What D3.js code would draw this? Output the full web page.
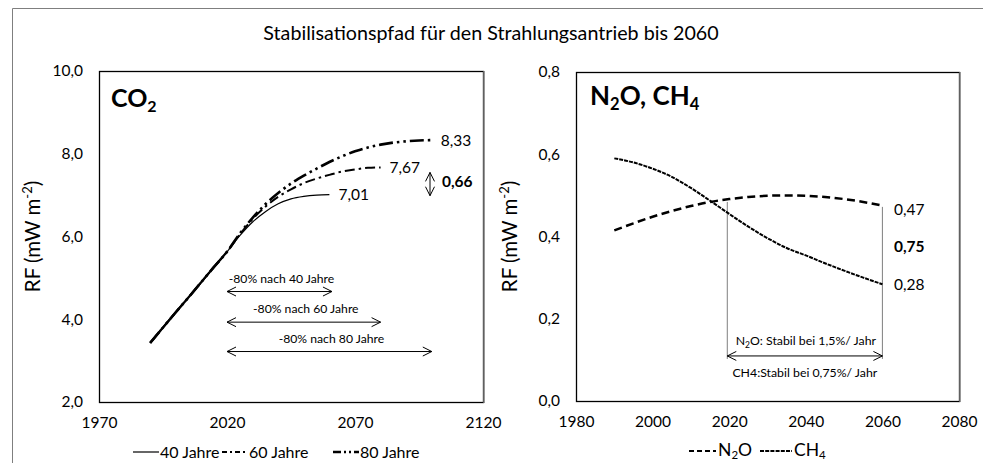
<!DOCTYPE html>
<html>
<head>
<meta charset="utf-8">
<script src="https://cdn.jsdelivr.net/npm/d3@7"></script>
<style>
  body { margin: 0; background: #fff; }
  svg { display: block; font-family: Lato, "Open Sans", sans-serif; }
</style>
</head>
<body>
<svg id="chart" width="983" height="463"></svg>
<script>
'use strict';

// --- data ---
const co2Common = [[1990, 3.43], [1995, 3.80], [2000, 4.17], [2005, 4.53], [2010, 4.90], [2015, 5.27], [2020, 5.63]];
const co2Jahre40 = [[2025, 6.02], [2030, 6.35], [2035, 6.60], [2040, 6.79], [2045, 6.91], [2050, 6.97], [2055, 7.00], [2060, 7.01]];
const co2Jahre60 = [[2025, 6.05], [2030, 6.42], [2035, 6.72], [2040, 6.96], [2045, 7.14], [2050, 7.29], [2055, 7.40], [2060, 7.49],
  [2065, 7.57], [2070, 7.62], [2075, 7.66], [2080, 7.67]];
const co2Jahre80 = [[2025, 6.07], [2030, 6.45], [2035, 6.78], [2040, 7.05], [2045, 7.28], [2050, 7.47], [2055, 7.64], [2060, 7.80],
  [2065, 7.94], [2070, 8.06], [2075, 8.15], [2080, 8.22], [2085, 8.27], [2090, 8.30], [2095, 8.32], [2100, 8.33]];

const years2 = [1990, 1995, 2000, 2005, 2010, 2015, 2020, 2025, 2030, 2035, 2040, 2045, 2050, 2055, 2060];
const n2oValues = [0.415, 0.432, 0.448, 0.462, 0.474, 0.484, 0.491, 0.496, 0.499, 0.500, 0.499, 0.496, 0.491, 0.484, 0.475];
const ch4Values = [0.590, 0.580, 0.565, 0.545, 0.518, 0.487, 0.455, 0.424, 0.396, 0.372, 0.354, 0.335, 0.317, 0.300, 0.284];

const co2XTicks = [1970, 2020, 2070, 2120];
const co2YTicks = [2, 4, 6, 8, 10];
const ghgXTicks = [1980, 2000, 2020, 2040, 2060, 2080];
const ghgYTicks = [0, 0.2, 0.4, 0.6, 0.8];

const co2EndLabels = ['7,01', '7,67', '8,33'];
const co2Spans = [
  { label: '-80% nach 40 Jahre', from: 2020, to: 2061, y: 4.67 },
  { label: '-80% nach 60 Jahre', from: 2020, to: 2080, y: 3.93 },
  { label: '-80% nach 80 Jahre', from: 2020, to: 2100, y: 3.22 }
];

const svg = d3.select('#chart');
const fmt = d => d3.format('.1f')(d).replace('.', ',');

// outer frame (left + top edge only visible)
svg.append('path')
  .attr('d', 'M12.5,463 V8.5 H983')
  .attr('fill', 'none').attr('stroke', '#7f7f7f').attr('stroke-width', 1);

svg.append('text')
  .attr('x', 491).attr('y', 40)
  .attr('text-anchor', 'middle')
  .attr('font-size', 19.7)
  .text('Stabilisationspfad für den Strahlungsantrieb bis 2060');

function arrowHead(g, x, y, dir, horiz) {
  // open chevron head
  const L = 9, H = 4.5;
  let d;
  if (horiz) d = `M${x + dir * L},${y - H} L${x},${y} L${x + dir * L},${y + H}`;
  else d = `M${x - H},${y + dir * L} L${x},${y} L${x + H},${y + dir * L}`;
  g.append('path').attr('d', d).attr('fill', 'none').attr('stroke', '#000').attr('stroke-width', 1);
}

function panel(opt) {
  const g = svg.append('g');
  const x = d3.scaleLinear().domain(opt.xDomain).range([opt.left, opt.right]);
  const y = d3.scaleLinear().domain(opt.yDomain).range([opt.bottom, opt.top]);

  const yAxis = g.append('g')
    .attr('transform', `translate(${opt.left},0)`)
    .call(d3.axisLeft(y).tickValues(opt.yTicks).tickSize(0).tickPadding(16).tickFormat(fmt));
  const xAxis = g.append('g')
    .attr('transform', `translate(0,${opt.bottom})`)
    .call(d3.axisBottom(x).tickValues(opt.xTicks).tickSize(0).tickPadding(15).tickFormat(d3.format('d')));
  [xAxis, yAxis].forEach(a => {
    a.select('.domain').remove();
    a.selectAll('text').attr('font-size', 15.5).attr('fill', '#000').attr('font-family', 'Lato, sans-serif');
  });

  g.append('rect')
    .attr('x', opt.left + 0.5).attr('y', opt.top + 0.5)
    .attr('width', opt.right - opt.left).attr('height', opt.bottom - opt.top)
    .attr('fill', 'none').attr('stroke', '#000').attr('stroke-width', 1.3);
  g.append('line')
    .attr('x1', opt.right + 1).attr('x2', opt.right + 1)
    .attr('y1', opt.top).attr('y2', opt.bottom + 1)
    .attr('stroke', '#808080').attr('stroke-width', 1.5);

  const yt = g.append('text')
    .attr('transform', `translate(${opt.left - 59},${(opt.top + opt.bottom) / 2}) rotate(-90)`)
    .attr('text-anchor', 'middle').attr('font-size', 20.5);
  yt.append('tspan').text('RF (mW m');
  yt.append('tspan').attr('dy', -8).attr('font-size', 13).text('-2');
  yt.append('tspan').attr('dy', 8).text(')');

  return { g, x, y };
}

// ---------- CO2 panel ----------
const L = panel({ xDomain: [1970, 2120], yDomain: [2, 10], left: 99, right: 483, top: 71, bottom: 402,
  xTicks: co2XTicks, yTicks: co2YTicks });

const lineL = d3.line().x(d => L.x(d[0])).y(d => L.y(d[1])).curve(d3.curveMonotoneX);
const co2Series = [
  { data: co2Jahre80, dash: '14,4,2.5,4,2.5,4', width: 2.6 },
  { data: co2Jahre60, dash: '10,4,2.5,4', width: 2 },
  { data: co2Jahre40, dash: null, width: 1.2 }
];
co2Series.forEach(s => {
  L.g.append('path')
    .datum(co2Common.concat(s.data))
    .attr('d', lineL)
    .attr('fill', 'none').attr('stroke', '#000')
    .attr('stroke-width', s.width)
    .attr('stroke-dasharray', s.dash);
});
// common historical part drawn solid on top
L.g.append('path').datum(co2Common).attr('d', lineL)
  .attr('fill', 'none').attr('stroke', '#000').attr('stroke-width', 2.2);

[co2Jahre40, co2Jahre60, co2Jahre80].forEach((s, i) => {
  const e = s[s.length - 1];
  L.g.append('text')
    .attr('x', L.x(e[0]) + 9).attr('y', L.y(e[1]) + 5.5)
    .attr('font-size', 15.5).text(co2EndLabels[i]);
});

// difference arrow 0,66
{
  const ax = 430, y1 = L.y(7.67) + 5, y2 = L.y(7.01) + 1;
  L.g.append('line').attr('x1', ax).attr('x2', ax).attr('y1', y1).attr('y2', y2)
    .attr('stroke', '#000').attr('stroke-width', 1);
  arrowHead(L.g, ax, y1, 1, false);
  arrowHead(L.g, ax, y2, -1, false);
  L.g.append('text').attr('x', 442).attr('y', L.y(7.34) + 5.5)
    .attr('font-size', 15.5).attr('font-weight', 'bold').text('0,66');
}

co2Spans.forEach(s => {
  const x1 = L.x(s.from), x2 = L.x(s.to), yy = L.y(s.y);
  L.g.append('line').attr('x1', x1).attr('x2', x2).attr('y1', yy).attr('y2', yy)
    .attr('stroke', '#000').attr('stroke-width', 1);
  arrowHead(L.g, x1, yy, 1, true);
  arrowHead(L.g, x2, yy, -1, true);
  L.g.append('text').attr('x', (x1 + x2) / 2 + 2).attr('y', yy - 9)
    .attr('text-anchor', 'middle').attr('font-size', 12.2).text(s.label);
});

const co2Title = L.g.append('text').attr('x', 111).attr('y', 107)
  .attr('font-size', 25).attr('font-weight', 'bold');
co2Title.append('tspan').text('CO');
co2Title.append('tspan').attr('dy', 5).attr('font-size', 16).text('2');

// legend left
const legL = [
  { label: '40 Jahre', dash: null, width: 1.2, x: 133 },
  { label: '60 Jahre', dash: '5,3,2,3', width: 2, x: 222 },
  { label: '80 Jahre', dash: '8,3,2,3,2,3', width: 2.6, x: 333 }
];
legL.forEach(d => {
  svg.append('line').attr('x1', d.x).attr('x2', d.x + 26).attr('y1', 452).attr('y2', 452)
    .attr('stroke', '#000').attr('stroke-width', d.width).attr('stroke-dasharray', d.dash);
  svg.append('text').attr('x', d.x + 27).attr('y', 457.5).attr('font-size', 16).text(d.label);
});

// ---------- N2O / CH4 panel ----------
const R = panel({ xDomain: [1980, 2080], yDomain: [0, 0.8], left: 576, right: 959, top: 72, bottom: 401,
  xTicks: ghgXTicks, yTicks: ghgYTicks });

const n2o = years2.map((yr, i) => [yr, n2oValues[i]]);
const ch4 = years2.map((yr, i) => [yr, ch4Values[i]]);
const lineR = d3.line().x(d => R.x(d[0])).y(d => R.y(d[1])).curve(d3.curveMonotoneX);

// stability marker lines
const stabFrom = 2019.5, stabTo = 2060, stabY = 0.112;
[[stabFrom, 0.484], [stabTo, 0.472]].forEach(([yr, top]) => {
  R.g.append('line').attr('x1', R.x(yr)).attr('x2', R.x(yr))
    .attr('y1', R.y(top)).attr('y2', R.y(stabY) + 4)
    .attr('stroke', '#7f7f7f').attr('stroke-width', 1);
});
{
  const x1 = R.x(stabFrom), x2 = R.x(stabTo), yy = R.y(stabY) + 1;
  R.g.append('line').attr('x1', x1).attr('x2', x2).attr('y1', yy).attr('y2', yy)
    .attr('stroke', '#000').attr('stroke-width', 1);
  arrowHead(R.g, x1, yy, 1, true);
  arrowHead(R.g, x2, yy, -1, true);
  const t1 = R.g.append('text').attr('x', (x1 + x2) / 2 + 1).attr('y', yy - 11)
    .attr('text-anchor', 'middle').attr('font-size', 12.3);
  t1.append('tspan').text('N');
  t1.append('tspan').attr('dy', 3).attr('font-size', 8.5).text('2');
  t1.append('tspan').attr('dy', -3).text('O: Stabil bei 1,5%/ Jahr');
  R.g.append('text').attr('x', (x1 + x2) / 2).attr('y', yy + 21)
    .attr('text-anchor', 'middle').attr('font-size', 12.3).text('CH4:Stabil bei 0,75%/ Jahr');
}

R.g.append('path').datum(n2o).attr('d', lineR)
  .attr('fill', 'none').attr('stroke', '#000').attr('stroke-width', 2.5)
  .attr('stroke-dasharray', '8,4.5');
R.g.append('path').datum(ch4).attr('d', lineR)
  .attr('fill', 'none').attr('stroke', '#000').attr('stroke-width', 2)
  .attr('stroke-dasharray', '4,1');

R.g.append('text').attr('x', 894).attr('y', 214.5).attr('font-size', 15.5).text('0,47');
R.g.append('text').attr('x', 894).attr('y', 251.5).attr('font-size', 15.5).attr('font-weight', 'bold').text('0,75');
R.g.append('text').attr('x', 894).attr('y', 289.5).attr('font-size', 15.5).text('0,28');

const ghgTitle = R.g.append('text').attr('x', 590).attr('y', 105)
  .attr('font-size', 26).attr('font-weight', 'bold');
ghgTitle.append('tspan').text('N');
ghgTitle.append('tspan').attr('dy', 5).attr('font-size', 16.5).text('2');
ghgTitle.append('tspan').attr('dy', -5).text('O, CH');
ghgTitle.append('tspan').attr('dy', 5).attr('font-size', 16.5).text('4');

// legend right
const legR = [
  { label: 'N', sub: '2', tail: 'O', dash: '5,3', x: 689, w: 27 },
  { label: 'CH', sub: '4', tail: '', dash: '4,1.2', x: 760, w: 32 }
];
legR.forEach(d => {
  svg.append('line').attr('x1', d.x).attr('x2', d.x + d.w).attr('y1', 451).attr('y2', 451)
    .attr('stroke', '#000').attr('stroke-width', 2).attr('stroke-dasharray', d.dash);
  const t = svg.append('text').attr('x', d.x + d.w + 2).attr('y', 456).attr('font-size', 17.5);
  t.append('tspan').text(d.label);
  t.append('tspan').attr('dy', 3).attr('font-size', 11.5).text(d.sub);
  if (d.tail) t.append('tspan').attr('dy', -3).text(d.tail);
});
</script>
</body>
</html>
